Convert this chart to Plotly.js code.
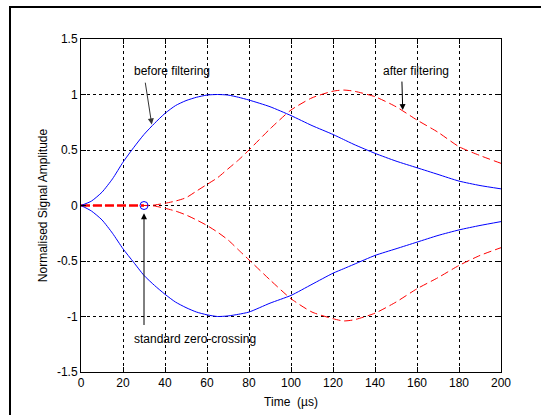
<!DOCTYPE html>
<html>
<head>
<meta charset="utf-8">
<script src="https://cdn.plot.ly/plotly-3.0.1.min.js"></script>
<style>
  html, body { margin: 0; padding: 0; background: #fff; }
  #wrap { position: relative; width: 541px; height: 415px; overflow: hidden; }
  #frame { position: absolute; left: 9px; top: 6px; width: 600px; height: 500px;
           border-top: 2px solid #000; border-left: 2px solid #000; pointer-events: none; z-index: 5; }
  #chart { position: absolute; left: 0; top: 0; width: 541px; height: 415px; }
</style>
</head>
<body>
<div id="wrap">
  <div id="chart"></div>
  <div id="frame"></div>
</div>
<script>
// Time samples (µs)
var time = [0,5,10,15,20,25,30,35,40,45,50,55,60,65,70,75,80,90,100,110,120,125,130,140,150,160,170,180,190,200];

// Before filtering (blue, solid)
var beforeUpper = [0,0.04,0.12,0.24,0.39,0.52,0.64,0.74,0.83,0.90,0.945,0.975,0.995,1.0,0.995,0.975,0.95,0.89,0.81,0.72,0.64,0.595,0.55,0.47,0.40,0.34,0.28,0.22,0.18,0.15];
var beforeLower = [0,-0.05,-0.13,-0.25,-0.39,-0.51,-0.63,-0.72,-0.80,-0.87,-0.92,-0.96,-0.985,-1.0,-0.995,-0.98,-0.96,-0.88,-0.81,-0.71,-0.61,-0.57,-0.53,-0.45,-0.39,-0.33,-0.27,-0.22,-0.18,-0.145];

// After filtering (red, dashed)
var afterUpper = [0,0,0,0,0,0,0,0.005,0.02,0.04,0.07,0.13,0.19,0.25,0.33,0.41,0.50,0.69,0.86,0.97,1.03,1.04,1.03,0.98,0.89,0.77,0.66,0.53,0.45,0.38];
var afterLower = [0,0,0,0,0,0,0,-0.005,-0.025,-0.05,-0.085,-0.13,-0.18,-0.24,-0.31,-0.40,-0.49,-0.67,-0.84,-0.96,-1.02,-1.04,-1.03,-0.97,-0.87,-0.75,-0.65,-0.54,-0.45,-0.38];

// Zero segment before the standard zero-crossing, and the crossing point
var zeroSegX = [0, 30];
var zeroSegY = [0, 0];
var crossX = [30];
var crossY = [0];

var xTicks = [0,20,40,60,80,100,120,140,160,180,200];
var yTicks = [-1.5,-1,-0.5,0,0.5,1,1.5];
var yTickText = ['-1.5','-1','-0.5','0','0.5','1','1.5'];

var blue = 'rgb(0,0,255)';
var red = 'rgb(255,0,0)';

var traces = [
  {x: time, y: afterUpper, mode: 'lines', line: {color: red, width: 1, dash: '8px,4px', shape: 'spline', smoothing: 0.6}},
  {x: time, y: afterLower, mode: 'lines', line: {color: red, width: 1, dash: '8px,4px', shape: 'spline', smoothing: 0.6}},
  {x: zeroSegX, y: zeroSegY, mode: 'lines', line: {color: red, width: 2.5, dash: '9px,3px'}},
  {x: time, y: beforeUpper, mode: 'lines', line: {color: blue, width: 1, shape: 'spline', smoothing: 0.6}},
  {x: time, y: beforeLower, mode: 'lines', line: {color: blue, width: 1, shape: 'spline', smoothing: 0.6}},
  {x: crossX, y: crossY, mode: 'markers', marker: {symbol: 'circle-open', size: 8, color: blue, line: {width: 1, color: blue}}}
];

var font = {family: '"Liberation Sans", Arial, sans-serif', size: 12, color: '#000'};

var axisCommon = {
  showline: true, linecolor: '#000', linewidth: 1, mirror: 'ticks',
  ticks: 'inside', ticklen: 5, tickcolor: '#000', tickwidth: 1,
  showgrid: true, gridcolor: '#000', gridwidth: 1, griddash: '3px,3px',
  zeroline: false, tickfont: font
};

var layout = {
  width: 541, height: 415,
  margin: {l: 81, r: 40, t: 39, b: 43},
  paper_bgcolor: '#fff', plot_bgcolor: '#fff',
  showlegend: false,
  font: font,
  xaxis: Object.assign({}, axisCommon, {
    range: [0, 200], tickvals: xTicks, ticktext: xTicks.map(String),
    title: {text: 'Time  (µs)', font: font, standoff: 8}
  }),
  yaxis: Object.assign({}, axisCommon, {
    range: [-1.5, 1.5], tickvals: yTicks, ticktext: yTickText,
    title: {text: 'Normalised Signal Amplitude', font: font, standoff: 6}
  }),
  annotations: [
    {x: 43.3, y: 1.21, xref: 'x', yref: 'y', text: 'before filtering', showarrow: false, font: font},
    {x: 33.7, y: 0.73, xref: 'x', yref: 'y', ax: 30.5, ay: 1.12, axref: 'x', ayref: 'y',
     text: '', showarrow: true, arrowhead: 2, arrowsize: 1.2, arrowwidth: 1, arrowcolor: '#333'},
    {x: 159.5, y: 1.21, xref: 'x', yref: 'y', text: 'after filtering', showarrow: false, font: font},
    {x: 153.2, y: 0.86, xref: 'x', yref: 'y', ax: 152.8, ay: 1.13, axref: 'x', ayref: 'y',
     text: '', showarrow: true, arrowhead: 2, arrowsize: 1.2, arrowwidth: 1, arrowcolor: '#000'},
    {x: 54.3, y: -1.2, xref: 'x', yref: 'y', text: 'standard zero-crossing', showarrow: false, font: font},
    {x: 30, y: -0.07, xref: 'x', yref: 'y', ax: 30, ay: -1.09, axref: 'x', ayref: 'y',
     text: '', showarrow: true, arrowhead: 2, arrowsize: 1.2, arrowwidth: 1, arrowcolor: '#000'}
  ]
};

Plotly.newPlot('chart', traces, layout, {staticPlot: true, displayModeBar: false});
</script>
</body>
</html>
